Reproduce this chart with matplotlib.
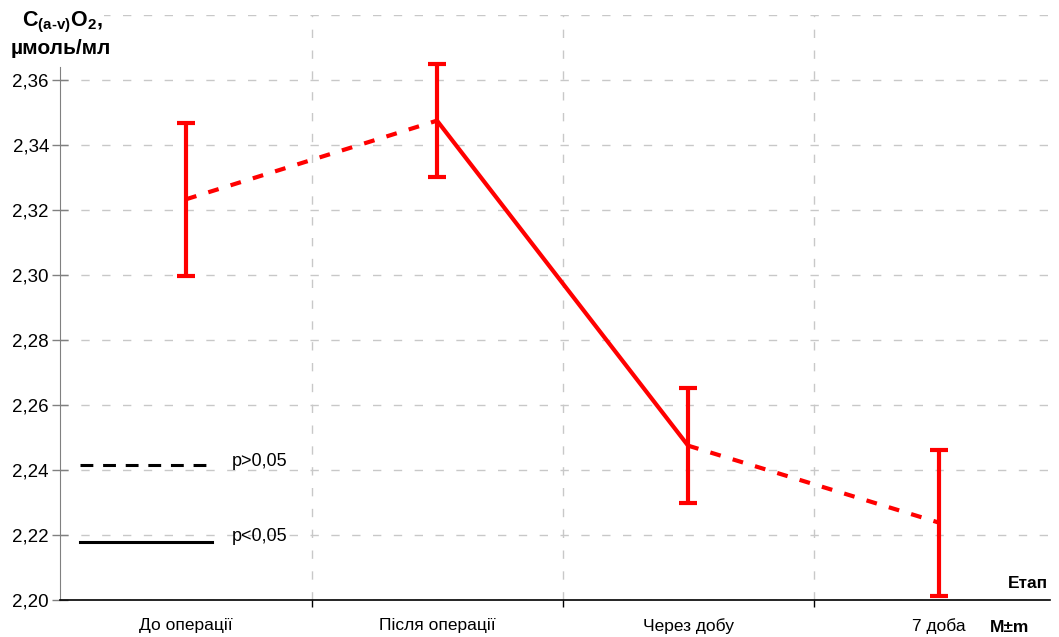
import matplotlib
matplotlib.use("Agg")
import matplotlib.pyplot as plt
from matplotlib.ticker import FixedLocator, FuncFormatter

plt.rcParams['font.family'] = ['Liberation Sans', 'DejaVu Sans']
plt.rcParams['mathtext.fontset'] = 'custom'
plt.rcParams['mathtext.rm'] = 'Liberation Sans:bold'
plt.rcParams['mathtext.bf'] = 'Liberation Sans:bold'
plt.rcParams['mathtext.it'] = 'Liberation Sans:bold'

categories = ["До операції", "Після операції", "Через добу", "7 доба"]
means = [2.3233, 2.3475, 2.2475, 2.2238]
errors = [0.0236, 0.0173, 0.0177, 0.0225]
# significance of each segment between consecutive stages
significant = [False, True, False]
yticks = [2.20, 2.22, 2.24, 2.26, 2.28, 2.30, 2.32, 2.34, 2.36]
legend_labels = ["p>0,05", "p<0,05"]

red = "#ff0000"
fig = plt.figure(figsize=(10.59, 6.37), dpi=100)
ax = fig.add_axes([60/1059, 37/637, 990/1059, 585/637])

x = list(range(len(categories)))
for i, sig in enumerate(significant):
    ls = '-' if sig else (0, (2.6, 3.0))
    ax.plot([x[i], x[i+1]], [means[i], means[i+1]], color=red, lw=3.0,
            linestyle=ls, solid_capstyle='butt', dash_capstyle='butt', zorder=3)

ax.errorbar(x, means, yerr=errors, fmt='none', ecolor=red, elinewidth=3.0,
            capsize=6.5, capthick=3.0, zorder=4)

ax.set_xlim(-0.502, 3.442)
ax.set_ylim(2.20, 2.38)

# y axis
ax.yaxis.set_major_locator(FixedLocator(yticks + [2.38]))
ax.yaxis.set_major_formatter(FuncFormatter(
    lambda v, p: ("%.2f" % v).replace('.', ',') if v < 2.37 else ""))
ax.tick_params(axis='y', direction='inout', length=12, width=1, color='#808080',
               labelsize=13.5, pad=2)
# x axis: ticks at boundaries, labels at centres
ax.xaxis.set_major_locator(FixedLocator([0.5, 1.5, 2.5]))
ax.xaxis.set_major_formatter(FuncFormatter(lambda v, p: ""))
ax.xaxis.set_minor_locator(FixedLocator(x))
ax.xaxis.set_minor_formatter(FuncFormatter(lambda v, p: categories[int(round(v))]))
ax.tick_params(axis='x', which='major', direction='out', length=5, width=1, color='black')
ax.tick_params(axis='x', which='minor', length=0, labelsize=12.5, pad=13)

ax.grid(True, which='major', axis='both', color='#c8c8c8', linestyle=(0, (6, 9)), lw=1)
ax.set_axisbelow(True)

for s in ['top', 'right']:
    ax.spines[s].set_visible(False)
ax.spines['left'].set_color('#808080')
ax.spines['left'].set_bounds(2.20, 2.364)
ax.spines['bottom'].set_color('black')
ax.spines['bottom'].set_linewidth(1.2)

# custom legend
ax.plot([0.020, 0.1535], [0.2308, 0.2308], transform=ax.transAxes, color='black',
        lw=2.2, linestyle=(0, (4.2, 3.2)), dash_capstyle='butt', zorder=5)
ax.plot([0.020, 0.1535], [0.0991, 0.0991], transform=ax.transAxes, color='black',
        lw=2.2, linestyle='-', zorder=5)
ax.text(0.174, 0.237, legend_labels[0], transform=ax.transAxes, fontsize=13,
        va='center', ha='left')
ax.text(0.174, 0.109, legend_labels[1], transform=ax.transAxes, fontsize=13,
        va='center', ha='left')

# axis titles
fig.text(62/1059, 1 - 22/637, r"$\mathrm{C_{(a‐v)}O_2,}$", fontsize=15.5,
         ha='center', va='center',
         bbox=dict(facecolor='white', edgecolor='none', pad=1))
fig.text(61/1059, 1 - 49/637, "µмоль/мл", fontsize=15, fontweight='bold',
         ha='center', va='center')
fig.text(1048/1059, 1 - 583/637, "Етап", fontsize=12.5, fontweight='bold',
         ha='right', va='center')
fig.text(1010/1059, 1 - 628/637, "M±m", fontsize=12.5, fontweight='bold',
         ha='center', va='center')

fig.savefig("out.png", dpi=100)
